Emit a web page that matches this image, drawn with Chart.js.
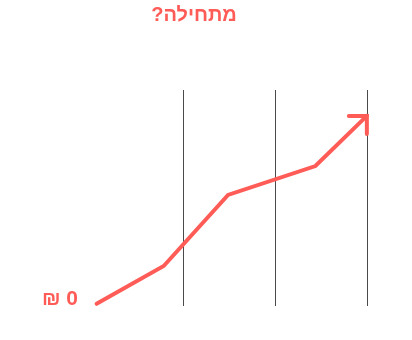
<!DOCTYPE html>
<html><head><meta charset="utf-8">
<script src="https://cdn.jsdelivr.net/npm/chart.js@4/dist/chart.umd.min.js"></script>
<style>html,body{margin:0;padding:0;background:#fff}#wrap{width:412px;height:340px}</style>
</head><body><div id="wrap"><canvas id="c" width="412" height="340"></canvas></div>
<script>
const titleText = "מתחילה?\u200F";
const xValues = [0.05, 0.78, 1.48, 2.43, 2.99];
const yValues = [1, 18.5, 51.4, 64.8, 88];
const gridTicks = [1, 2, 3];
const yLabel = "₪ 0";
const RED = '#ff5c57';

const arrowHead = {
  id: 'arrowHead',
  afterDatasetsDraw(chart) {
    const pts = chart.getDatasetMeta(0).data;
    const p = pts[pts.length - 1];
    const ctx = chart.ctx;
    ctx.save();
    ctx.strokeStyle = RED; ctx.lineWidth = 4; ctx.lineCap = 'round'; ctx.lineJoin = 'miter';
    ctx.beginPath();
    ctx.moveTo(p.x - 18, p.y);
    ctx.lineTo(p.x, p.y);
    ctx.lineTo(p.x, p.y + 18);
    ctx.stroke();
    ctx.restore();
  }
};

new Chart(document.getElementById('c'), {
  type: 'line',
  data: { datasets: [{
    data: xValues.map((x, i) => ({ x, y: yValues[i] })),
    borderColor: RED, borderWidth: 4, pointRadius: 0, tension: 0,
    borderCapStyle: 'round', borderJoinStyle: 'miter'
  }]},
  options: {
    responsive: false, animation: false,
    layout: { padding: { left: 0, right: 24, top: 0, bottom: 34 } },
    plugins: {
      legend: { display: false }, tooltip: { enabled: false },
      title: { display: true, text: titleText, color: RED,
        font: { family: 'Liberation Sans, DejaVu Sans, sans-serif', size: 20, weight: 'bold' },
        padding: { top: 3, bottom: 63 } }
    },
    clip: false,
    scales: {
      x: { type: 'linear', min: 0, max: 3.22,
        afterBuildTicks: s => { s.ticks = gridTicks.map(v => ({ value: v })); },
        grid: { color: '#4a4a4a', lineWidth: 1, drawTicks: false },
        border: { display: false },
        ticks: { display: false } },
      y: { min: 0, max: 100,
        afterBuildTicks: s => { s.ticks = [{ value: 0 }]; },
        afterFit: s => { s.width = 92; },
        grid: { display: false, drawTicks: false }, border: { display: false },
        ticks: { color: RED, padding: 14, labelOffset: -7, callback: () => yLabel,
          font: { family: 'Liberation Sans, DejaVu Sans, sans-serif', size: 21, weight: 'bold' } } }
    }
  },
  plugins: [arrowHead]
});
</script></body></html>
